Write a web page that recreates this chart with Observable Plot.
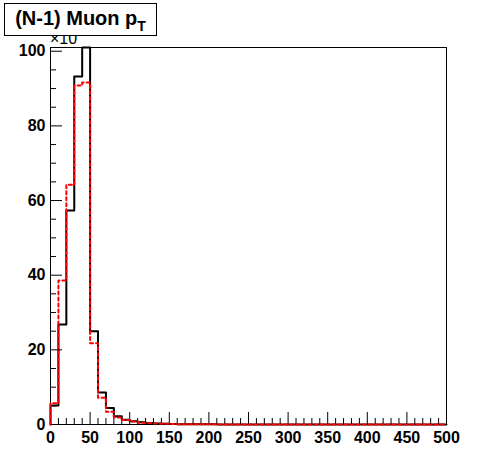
<!DOCTYPE html>
<html>
<head>
<meta charset="utf-8">
<script src="https://cdn.jsdelivr.net/npm/d3@7"></script>
<script src="https://cdn.jsdelivr.net/npm/@observablehq/plot@0.6"></script>
<style>
  html, body { margin: 0; padding: 0; background: #fff; }
  #wrap { position: relative; width: 496px; height: 472px; font-family: "Liberation Sans", Arial, sans-serif; }
  #title { position: absolute; left: 4px; top: 3px; width: 151px; height: 31px; border: 1px solid #000; background: #fff;
           font-weight: bold; font-size: 20px; line-height: 28px; box-sizing: content-box; text-align: center; white-space: nowrap; }
  #title sub { font-size: 14px; vertical-align: -6px; line-height: 0; }
  #expo { position: absolute; left: 50px; top: 30px; font-size: 16px; line-height: 18px; }
</style>
</head>
<body>
<div id="wrap">
  <div id="chart"></div>
  <div id="expo">×10</div>
  <div id="title">(N-1) Muon p<sub>T</sub></div>
</div>
<script>
// bin lower edges (GeV), width 10
const binLow = [0,10,20,30,40,50,60,70,80,90,100,110,120,130,140,150,160,170,180,190,
  200,210,220,230,240,250,260,270,280,290,300,310,320,330,340,350,360,370,380,390,
  400,410,420,430,440,450,460,470,480,490];
const binHigh = 500;
// black solid histogram (x10)
const seriesBlack = [5.1,26.8,57.3,93.2,101,25.0,8.6,4.4,2.2,1.3,0.9,0.6,0.4,0.3,0.2,0.15,0.1,0.08,0.06,0.05,
  0.04,0.03,0.03,0.02,0.02,0.02,0.01,0.01,0.01,0.01,0,0,0,0,0,0,0,0,0,0,
  0,0,0,0,0,0,0,0,0,0];
// red dashed histogram (x10)
const seriesRed = [5.7,38.6,64.2,90.8,91.6,21.8,7.2,3.4,1.9,1.2,0.8,0.5,0.4,0.3,0.2,0.15,0.1,0.08,0.06,0.05,
  0.04,0.03,0.03,0.02,0.02,0.02,0.01,0.01,0.01,0.01,0,0,0,0,0,0,0,0,0,0,
  0,0,0,0,0,0,0,0,0,0];
const xMajorTicks = [0,50,100,150,200,250,300,350,400,450,500];
const xMinorTicks = [10,20,30,40,60,70,80,90,110,120,130,140,160,170,180,190,210,220,230,240,
  260,270,280,290,310,320,330,340,360,370,380,390,410,420,430,440,460,470,480,490];
const yMajorTicks = [0,20,40,60,80,100];
const yMinorTicks = [5,10,15,25,30,35,45,50,55,65,70,75,85,90,95];

function outline(vals) {
  const pts = [{x: binLow[0], y: 0}];
  binLow.forEach((b, i) => pts.push({x: b, y: vals[i]}));
  pts.push({x: binHigh, y: vals[vals.length - 1]});
  pts.push({x: binHigh, y: 0});
  return pts;
}

const W = 496, H = 472, mL = 50, mR = 50, mT = 47, mB = 48;
const fw = W - mL - mR, fh = H - mT - mB;

const chart = Plot.plot({
  width: W, height: H,
  marginLeft: mL, marginRight: mR, marginTop: mT, marginBottom: mB,
  style: {background: "#fff", fontFamily: "'Liberation Sans', Arial, sans-serif"},
  x: {domain: [0, 500]},
  y: {domain: [0, 101]},
  marks: [
    Plot.frame({stroke: "#000", strokeWidth: 1}),
    Plot.tickY(yMajorTicks, {y: d => d, stroke: "#000", insetRight: fw - 12}),
    Plot.tickY(yMinorTicks, {y: d => d, stroke: "#000", insetRight: fw - 6}),
    Plot.tickX(xMajorTicks, {x: d => d, stroke: "#000", insetTop: fh - 12}),
    Plot.tickX(xMinorTicks, {x: d => d, stroke: "#000", insetTop: fh - 6}),
    Plot.axisY(yMajorTicks, {tickSize: 0, tickPadding: 5, fontSize: 16, fontWeight: "bold", fill: "#000", label: null}),
    Plot.axisX(xMajorTicks, {tickSize: 0, tickPadding: 7, fontSize: 16, fontWeight: "bold", fill: "#000", label: null}),
    Plot.line(outline(seriesBlack), {x: "x", y: "y", curve: "step-after", stroke: "#000", strokeWidth: 2}),
    Plot.line(outline(seriesRed), {x: "x", y: "y", curve: "step-after", stroke: "#ff0000", strokeWidth: 2, strokeDasharray: "3,3"})
  ]
});
document.getElementById("chart").appendChild(chart);
</script>
</body>
</html>
